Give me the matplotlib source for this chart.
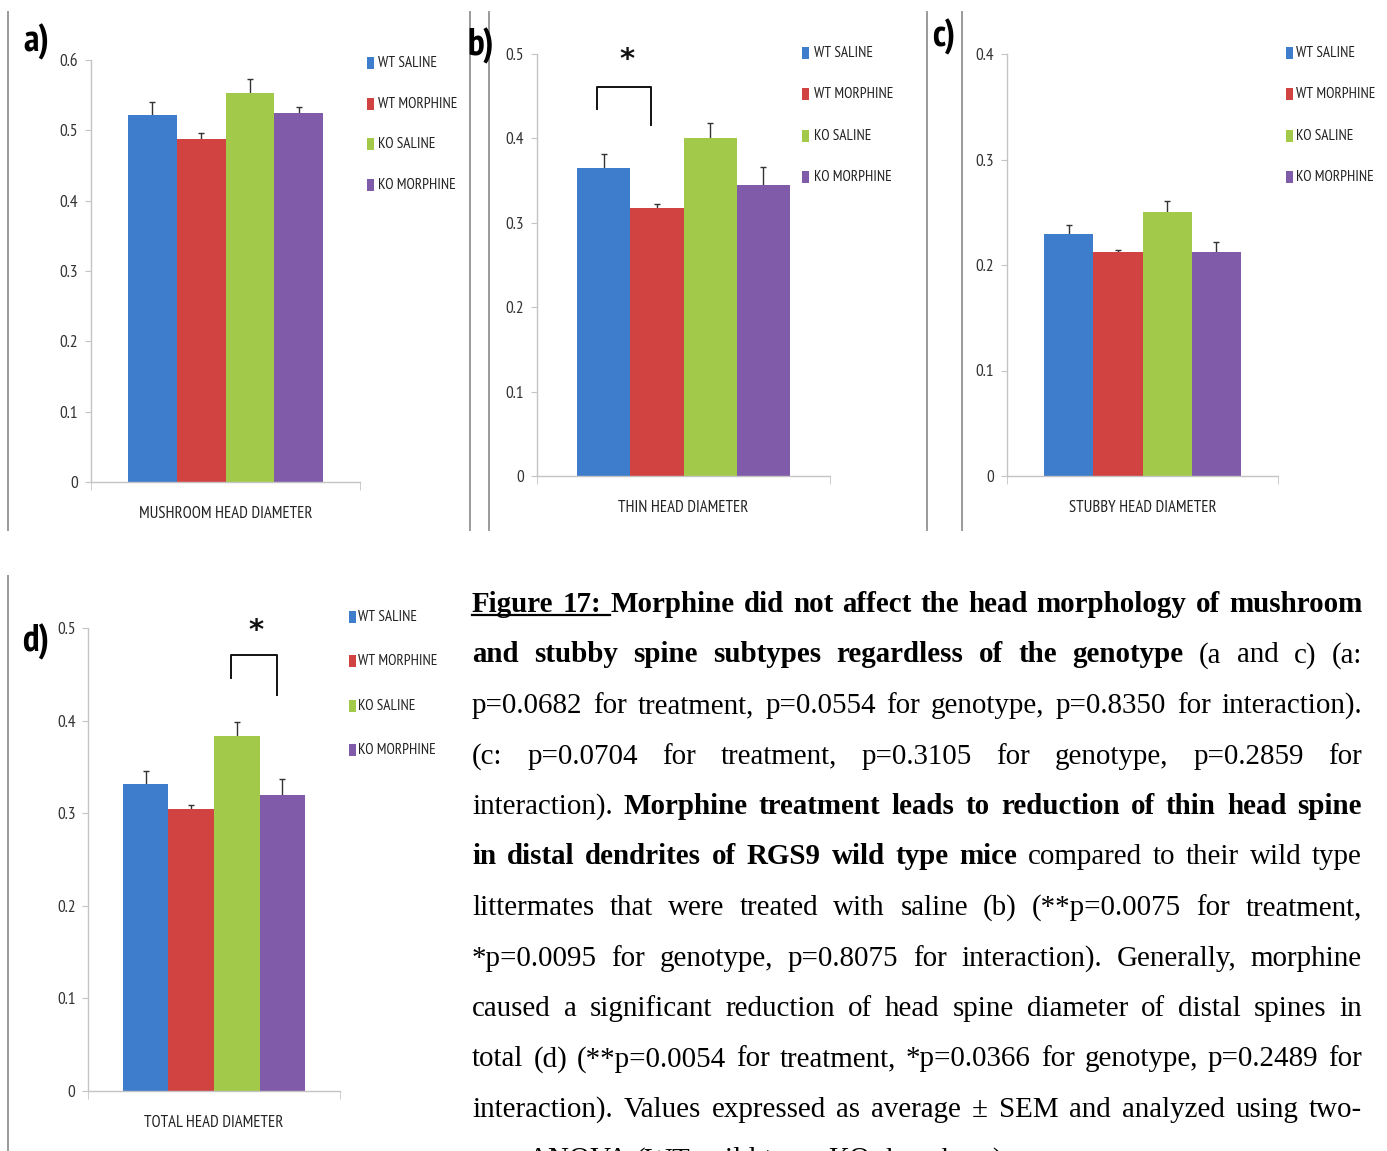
import matplotlib
matplotlib.use('Agg')
import matplotlib.pyplot as plt
from matplotlib.lines import Line2D
from matplotlib.patches import Rectangle

W, H = 1387, 1151

groups = ['WT SALINE', 'WT MORPHINE', 'KO SALINE', 'KO MORPHINE']
colors = ['#3e7dcc', '#d14341', '#a3c94b', '#7f5ba9']

# spine head diameter, mean and SEM per group
mushroom_mean = [0.522, 0.487, 0.553, 0.525]
mushroom_sem = [0.018, 0.009, 0.020, 0.008]
thin_mean = [0.365, 0.317, 0.400, 0.345]
thin_sem = [0.017, 0.005, 0.018, 0.021]
stubby_mean = [0.229, 0.212, 0.250, 0.212]
stubby_sem = [0.009, 0.002, 0.011, 0.010]
total_mean = [0.332, 0.304, 0.383, 0.320]
total_sem = [0.014, 0.005, 0.016, 0.017]

CHART_FONT = ['PT Sans Narrow', 'DejaVu Sans']
TEXT_FONT = 'Liberation Serif'
BAR_W = 0.181

fig = plt.figure(figsize=(W / 100, H / 100), dpi=100)


def px_rect(l, t, r, b):
    return [l / W, 1 - b / H, (r - l) / W, (b - t) / H]


def fx(x):
    return x / W


def fy(y):
    return 1 - y / H


def draw_panel(rect, title, letter, letter_xy, means, sems, ymax, legend, bracket=None):
    ax = fig.add_axes(px_rect(*rect))
    xs = [(i - 1.5) * BAR_W for i in range(4)]
    ax.errorbar(xs, means, yerr=sems, fmt='none', ecolor='#333333',
                elinewidth=1, capsize=2.5, capthick=1, zorder=1)
    ax.bar(xs, means, width=BAR_W, color=colors, zorder=2)
    ax.set_xlim(-0.5, 0.5)
    ax.set_ylim(0, ymax)

    for s in ['top', 'right']:
        ax.spines[s].set_visible(False)
    for s in ['left', 'bottom']:
        ax.spines[s].set_color('#c4c4c4')
        ax.spines[s].set_linewidth(1)

    yt = [round(0.1 * k, 1) for k in range(int(round(ymax * 10)) + 1)]
    ax.set_yticks(yt, labels=['0' if v == 0 else f'{v:.1f}' for v in yt])
    ax.tick_params(axis='y', direction='out', length=4, color='#c4c4c4',
                   labelcolor='#333333', labelsize=12.5, pad=5)
    ax.set_xticks([0], labels=[title])
    ax.set_xticks([-0.5, 0.5], minor=True)
    ax.tick_params(axis='x', which='major', length=0, pad=17,
                   labelsize=12, labelcolor='#222222')
    ax.tick_params(axis='x', which='minor', direction='out', length=6,
                   color='#c4c4c4')
    for lab in ax.get_xticklabels() + ax.get_yticklabels():
        lab.set_family(CHART_FONT)

    if bracket is not None:
        i, j, top, lb, rb, star_y = bracket
        xl = xs[i] - 0.025
        xr = xs[j] - 0.02
        ax.plot([xl, xl, xr, xr], [lb, top, top, rb], color='#111111',
                lw=1.4, clip_on=False, zorder=4)
        ax.text((xl + xr) / 2 + 0.01, star_y, '*', ha='center', va='center',
                fontsize=21, fontweight='bold', family='DejaVu Sans',
                color='#111111')

    fig.text(fx(letter_xy[0]), fy(letter_xy[1]), letter, ha='center',
             va='center', fontsize=27, fontweight='bold', family=CHART_FONT)

    sq_x, txt_x, y0, step = legend
    for k, (g, c) in enumerate(zip(groups, colors)):
        yc = y0 + k * step
        fig.patches.append(Rectangle((fx(sq_x), fy(yc + 6)), 7 / W, 12 / H,
                                     transform=fig.transFigure,
                                     facecolor=c, edgecolor='none'))
        fig.text(fx(txt_x), fy(yc), g, ha='left', va='center',
                 fontsize=11, family=CHART_FONT, color='#222222')
    return ax


draw_panel((91, 60, 360, 482), 'MUSHROOM HEAD DIAMETER', 'a)', (36, 42),
           mushroom_mean, mushroom_sem, 0.6, (367, 378, 63, 40.7))
draw_panel((537, 54, 830, 476), 'THIN HEAD DIAMETER', 'b)', (481, 46),
           thin_mean, thin_sem, 0.5, (802, 814, 53, 41.3),
           bracket=(0, 1, 0.461, 0.435, 0.416, 0.493))
draw_panel((1007, 54, 1278, 476), 'STUBBY HEAD DIAMETER', 'c)', (944, 37),
           stubby_mean, stubby_sem, 0.4, (1286, 1296, 53, 41.3))
draw_panel((88, 628, 340, 1091), 'TOTAL HEAD DIAMETER', 'd)', (36, 642),
           total_mean, total_sem, 0.5, (349, 358, 617, 44.3),
           bracket=(2, 3, 0.471, 0.446, 0.428, 0.497))

# frame lines separating the panels
for x, y0, y1 in [(8, 12, 530), (470, 12, 530), (489, 12, 530),
                  (927, 12, 530), (962, 12, 530), (8, 576, 1151)]:
    fig.add_artist(Line2D([fx(x), fx(x)], [fy(y0), fy(y1)], color='#9a9a9a',
                          lw=1.4, transform=fig.transFigure))

# caption, justified line by line
caption_lines = [
    [('Figure 17:', 'bu'), ('Morphine did not affect the head morphology of mushroom', 'b')],
    [('and stubby spine subtypes regardless of the genotype', 'b'), ('(a and c) (a:', '')],
    [('p=0.0682 for treatment, p=0.0554 for genotype, p=0.8350 for interaction).', '')],
    [('(c: p=0.0704 for treatment, p=0.3105 for genotype, p=0.2859 for', '')],
    [('interaction).', ''), ('Morphine treatment leads to reduction of thin head spine', 'b')],
    [('in distal dendrites of RGS9 wild type mice', 'b'), ('compared to their wild type', '')],
    [('littermates that were treated with saline (b) (**p=0.0075 for treatment,', '')],
    [('*p=0.0095 for genotype, p=0.8075 for interaction). Generally, morphine', '')],
    [('caused a significant reduction of head spine diameter of distal spines in', '')],
    [('total (d) (**p=0.0054 for treatment, *p=0.0366 for genotype, p=0.2489 for', '')],
    [('interaction). Values expressed as average \u00b1 SEM and analyzed using two-', '')],
    [('way ANOVA (WT: wild type, KO: knockout).', '')],
]

renderer = fig.canvas.get_renderer()
TEXT_L, TEXT_R = 472, 1362
BASE0, LEAD = 612, 50.5
CAP_SIZE = 20.9

space = fig.text(0, 0, 'a a', fontsize=CAP_SIZE, family=TEXT_FONT)
aa = fig.text(0, 0, 'aa', fontsize=CAP_SIZE, family=TEXT_FONT)
space_w = (space.get_window_extent(renderer).width
           - aa.get_window_extent(renderer).width)
space.remove()
aa.remove()

for n, segs in enumerate(caption_lines):
    base = BASE0 + n * LEAD
    words = []
    for txt, style in segs:
        for w in txt.split():
            words.append((w, style))
    arts = []
    for w, style in words:
        t = fig.text(0, fy(base), w, fontsize=CAP_SIZE, family=TEXT_FONT,
                     fontweight='bold' if 'b' in style else 'normal',
                     ha='left', va='baseline', color='black')
        arts.append(t)
    widths = [t.get_window_extent(renderer).width for t in arts]
    last = n == len(caption_lines) - 1
    if last or len(arts) < 2:
        gap = space_w
    else:
        gap = (TEXT_R - TEXT_L - sum(widths)) / (len(arts) - 1)
    x = TEXT_L
    under_end = None
    for (w, style), t, wd in zip(words, arts, widths):
        t.set_x(fx(x))
        x += wd + gap
        if 'u' in style:
            under_end = x
    if under_end is not None:
        fig.add_artist(Line2D([fx(TEXT_L), fx(under_end)],
                              [fy(base + 3), fy(base + 3)], color='black',
                              lw=1.6, transform=fig.transFigure))

fig.savefig('out.png', dpi=100, facecolor='white')
